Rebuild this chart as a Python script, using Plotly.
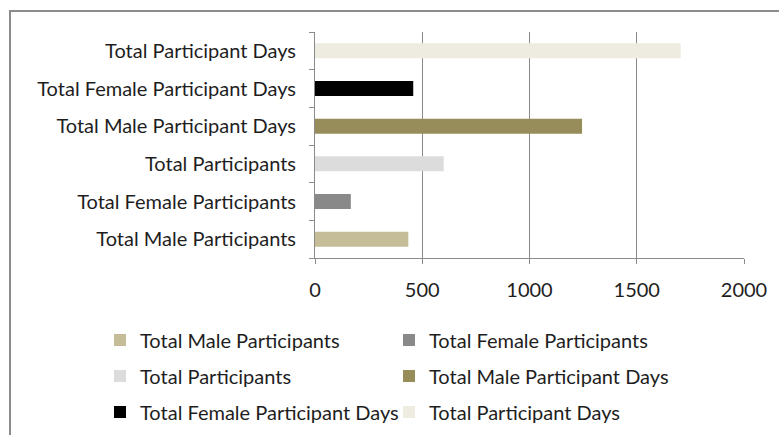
import plotly.graph_objects as go

categories = [
    "Total Male Participants",
    "Total Female Participants",
    "Total Participants",
    "Total Male Participant Days",
    "Total Female Participant Days",
    "Total Participant Days",
]
values = [435, 167, 600, 1245, 458, 1705]
colors = ["#c4bd97", "#898989", "#dcdcdc", "#968d5a", "#000000", "#eeece1"]
legend_rows = ["legend", "legend", "legend2", "legend2", "legend3", "legend3"]
x_ticks = [0, 500, 1000, 1500, 2000]

W, H = 779, 435
ML, MR, MT, MB = 315, 35, 32, 177
PW, PH = W - ML - MR, H - MT - MB

def px_x(p):
    return (p - ML) / PW

def px_y(p):
    return (H - MB - p) / PH

FONT = "Lato"
FS = 20
TXT = "#1e1e1e"
GRID = "#8a8a8a"

fig = go.Figure()
for cat, val, col, lg in zip(categories, values, colors, legend_rows):
    fig.add_trace(go.Bar(
        y=[cat], x=[val], orientation="h", name=cat,
        marker=dict(color=col, line=dict(width=0)),
        width=0.4, legend=lg,
    ))

leg_common = dict(orientation="h", xanchor="left", yanchor="middle",
                  entrywidth=244, entrywidthmode="pixels",
                  font=dict(family=FONT, size=FS, color=TXT),
                  bgcolor="rgba(0,0,0,0)", borderwidth=0, itemclick=False)

fig.update_layout(
    width=W, height=H,
    margin=dict(l=ML, r=MR, t=MT, b=MB, autoexpand=False),
    paper_bgcolor="white", plot_bgcolor="white",
    barmode="relative",
    font=dict(family=FONT, size=FS, color=TXT),
    showlegend=True,
    legend=dict(x=px_x(100), y=px_y(340), **leg_common),
    legend2=dict(x=px_x(100), y=px_y(376), **leg_common),
    legend3=dict(x=px_x(100), y=px_y(412), **leg_common),
    xaxis=dict(range=[0, 2000], tickvals=x_ticks, ticktext=[str(t) for t in x_ticks],
               showgrid=True, gridcolor=GRID, gridwidth=1,
               showline=True, linecolor=GRID, linewidth=1,
               ticks="outside", ticklen=5, tickcolor=GRID,
               ticklabelstandoff=9, zeroline=False,
               tickfont=dict(family=FONT, size=FS, color=TXT), fixedrange=True),
    yaxis=dict(categoryorder="array", categoryarray=categories,
               showline=True, linecolor=GRID, linewidth=1,
               ticks="outside", ticklen=5, tickcolor=GRID, tickson="boundaries",
               ticklabelstandoff=14, showgrid=False,
               tickfont=dict(family=FONT, size=FS, color=TXT), fixedrange=True),
    shapes=[dict(type="rect", xref="paper", yref="paper",
                 x0=px_x(10), x1=px_x(800), y0=px_y(460), y1=px_y(11),
                 line=dict(color="#8c8c8c", width=2), fillcolor="rgba(0,0,0,0)",
                 layer="below")],
)

fig.write_html("out.html", config={"displayModeBar": False})
